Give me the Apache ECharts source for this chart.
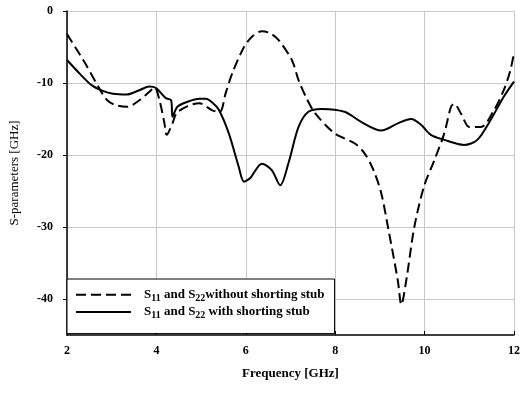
<!DOCTYPE html>
<html>
<head>
<meta charset="utf-8">
<script src="https://cdn.jsdelivr.net/npm/echarts@6/dist/echarts.min.js"></script>
<style>
  html, body { margin: 0; padding: 0; background: #fff; }
  #chart { width: 523px; height: 396px; }
</style>
</head>
<body>
<div id="chart"></div>
<script>
// values
const xTicks = [2, 4, 6, 8, 10, 12];
const yTicks = [0, -10, -20, -30, -40];

// S11 / S22 without shorting stub (dashed)
const dashFreq = [2.0, 2.4, 2.7, 2.9, 3.1, 3.35, 3.62, 3.88, 3.96, 4.07, 4.18, 4.23, 4.36, 4.45, 4.7, 4.96,
	5.25, 5.42, 5.55, 5.7, 5.96, 6.15, 6.36, 6.55, 6.73, 7.03, 7.18, 7.35, 7.55, 7.99, 8.44, 8.66, 8.85,
	9.03, 9.18, 9.4, 9.48, 9.59, 9.77, 9.99, 10.22, 10.44, 10.59, 10.66, 10.81, 11.0, 11.26, 11.55, 11.77, 11.92, 12.0];
const dashVal = [-3.2, -7.2, -10.5, -12.4, -13.1, -13.3, -12.4, -11.0, -10.6, -12.4, -15.6, -17.2, -15.6, -14.2, -13.2, -12.8,
	-13.8, -14.0, -11.4, -8.6, -5.0, -3.5, -2.8, -3.1, -4.0, -6.8, -9.6, -12.0, -14.2, -17.0, -18.4, -19.8, -22.0,
	-25.3, -30.0, -37.4, -40.8, -37.4, -30.0, -24.3, -20.7, -17.0, -13.3, -12.9, -14.2, -16.1, -16.1, -13.8, -11.0, -8.2, -5.8];

// S11 / S22 with shorting stub (solid)
const solidFreq = [2.0, 2.3, 2.55, 2.8, 3.03, 3.33, 3.62, 3.84, 3.99, 4.21, 4.33, 4.36, 4.47, 4.7, 4.96, 5.1,
	5.25, 5.4, 5.62, 5.84, 5.96, 6.1, 6.36, 6.58, 6.77, 6.96, 7.18, 7.4, 7.7, 8.21, 8.58, 9.03, 9.4, 9.7,
	9.92, 10.14, 10.44, 10.88, 11.18, 11.48, 11.77, 12.0];
const solidVal = [-6.8, -8.8, -10.3, -11.1, -11.5, -11.6, -11.0, -10.5, -10.7, -12.1, -12.4, -14.7, -13.3, -12.6, -12.2, -12.2,
	-12.7, -13.75, -17.0, -21.6, -23.7, -23.2, -21.2, -22.1, -24.2, -21.0, -16.1, -14.0, -13.6, -14.0, -15.4, -16.6, -15.6, -15.0,
	-15.8, -17.2, -17.9, -18.6, -17.9, -15.1, -11.9, -9.8];

const pair = (xs, ys) => xs.map((x, i) => [x, ys[i]]);

const serif = "Liberation Serif";
const legendRich = {
	a: { fontFamily: serif, fontSize: 13, fontWeight: "bold", color: "#000", lineHeight: 17 },
	b: { fontFamily: serif, fontSize: 10, fontWeight: "bold", color: "#000", lineHeight: 10, verticalAlign: "bottom" },
};

const myChart = echarts.init(document.querySelector("#chart"));

myChart.setOption({
	animation: false,
	backgroundColor: "#fff",
	grid: {
		left: 67,
		right: 6,
		top: 11,
		bottom: 61,
	},
	// legend box sits on the bottom axis
	legend: {
		orient: "vertical",
		left: 67,
		top: 279,
		padding: [9, 10, 13, 8],
		itemGap: 2,
		itemWidth: 55,
		itemHeight: 17,
		backgroundColor: "#fff",
		borderColor: "#000",
		borderWidth: 1,
		borderRadius: 0,
		itemStyle: { opacity: 0, borderWidth: 0 },
		textStyle: { rich: legendRich, padding: [0, 0, 0, 8] },
		formatter: (name) =>
			name === "without"
				? "{a|S}{b|11}{a| and S}{b|22}{a|without shorting stub}"
				: "{a|S}{b|11}{a| and S}{b|22}{a| with shorting stub}",
		data: ["without", "with"],
	},
	xAxis: {
		type: "value",
		min: 2,
		max: 12,
		interval: 2,
		name: "Frequency [GHz]",
		nameLocation: "middle",
		nameGap: 32,
		nameTextStyle: { fontFamily: serif, fontSize: 13, fontWeight: "bold", color: "#000" },
		axisLine: { onZero: false, lineStyle: { color: "#000", width: 1.5 } },
		axisTick: { inside: true, length: 4, lineStyle: { color: "#000" } },
		axisLabel: { fontFamily: serif, fontSize: 12, fontWeight: "bold", color: "#000", margin: 10 },
		splitLine: { show: true, lineStyle: { color: "#c8c8c8", width: 1 } },
	},
	yAxis: {
		type: "value",
		min: -45,
		max: 0,
		name: "S-parameters [GHz]",
		nameLocation: "middle",
		nameGap: 46,
		nameTextStyle: { fontFamily: serif, fontSize: 13, color: "#000" },
		axisLine: { onZero: false, lineStyle: { color: "#000", width: 1.5 } },
		axisTick: { length: 4, lineStyle: { color: "#000" }, customValues: yTicks },
		axisLabel: { fontFamily: serif, fontSize: 12, fontWeight: "bold", color: "#000", margin: 14, customValues: yTicks },
		splitLine: { show: true, lineStyle: { color: "#c8c8c8", width: 1 } },
	},
	series: [
		{
			name: "without",
			type: "line",
			data: pair(dashFreq, dashVal),
			smooth: 0.3,
			symbol: "none",
			lineStyle: { color: "#000", width: 2, type: [10, 5] },
			itemStyle: { color: "#000" },
		},
		{
			name: "with",
			type: "line",
			data: pair(solidFreq, solidVal),
			smooth: 0.3,
			symbol: "none",
			lineStyle: { color: "#000", width: 2 },
			itemStyle: { color: "#000" },
		},
	],
});
</script>
</body>
</html>
